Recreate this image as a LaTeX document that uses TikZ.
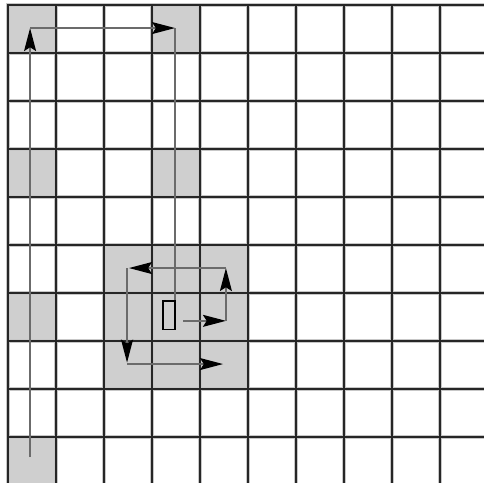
\documentclass[tikz,border=0pt]{standalone}
\usetikzlibrary{arrows.meta}
\begin{document}
\begin{tikzpicture}[
  gridline/.style={line width=1.3pt,black!85,line cap=rect},
  halo/.style={line width=2.4pt,black!22,line cap=rect},
  cell/.style={fill=black!19},
  probe/.style={draw,line width=1pt,inner sep=0pt,minimum width=0.25cm,minimum height=0.6cm},
  plain/.style={line width=0.8pt,black!58},
  route/.style={plain,-{Stealth[color=black,length=0.48cm,width=0.25cm,inset=0.08cm]}}]
\useasboundingbox (-0.1667,0.1042) rectangle (9.9167,-9.9375);
\clip (-0.1667,0.1042) rectangle (9.9167,-9.9375);
% shaded cells
\foreach \c/\r in {0/0,3/0,0/3,3/3,0/6,0/9}
  \fill[cell] (\c,-\r) rectangle ++(1,-1);
\fill[cell] (2,-5) rectangle (5,-8);
% grid
\foreach \i in {0,...,9} {
  \draw[halo] (\i,0) -- (\i,-10.5);
  \draw[halo] (0,-\i) -- (10.5,-\i);
}
\foreach \i in {0,...,9} {
  \draw[gridline] (\i,0) -- (\i,-10.5);
  \draw[gridline] (0,-\i) -- (10.5,-\i);
}
% probe and outer route
\node[probe] (probe) at (3.357,-6.46) {};
\coordinate (start) at (0.46,-9.42);
\coordinate (up) at (0.46,-0.48);
\coordinate (over) at (3.48,-0.48);
\draw[route] (start) -- (up);
\draw[route] (up) -- (over);
\draw[plain] (over) -- (over |- probe.north);
% inner spiral
\coordinate (s0) at (3.65,-6.58);
\coordinate (s1) at (4.54,-6.58);
\coordinate (s2) at (4.54,-5.48);
\coordinate (s3) at (2.52,-5.48);
\coordinate (s4) at (2.48,-7.45);
\coordinate (s5) at (4.48,-7.48);
\draw[route] (s0) -- (s1);
\draw[route] (s1) -- (s2);
\draw[route] (s2) -- (s3);
\draw[route] (s3 -| s4) -- (s4);
\draw[route] (s4 |- s5) -- (s5);
\end{tikzpicture}
\end{document}
